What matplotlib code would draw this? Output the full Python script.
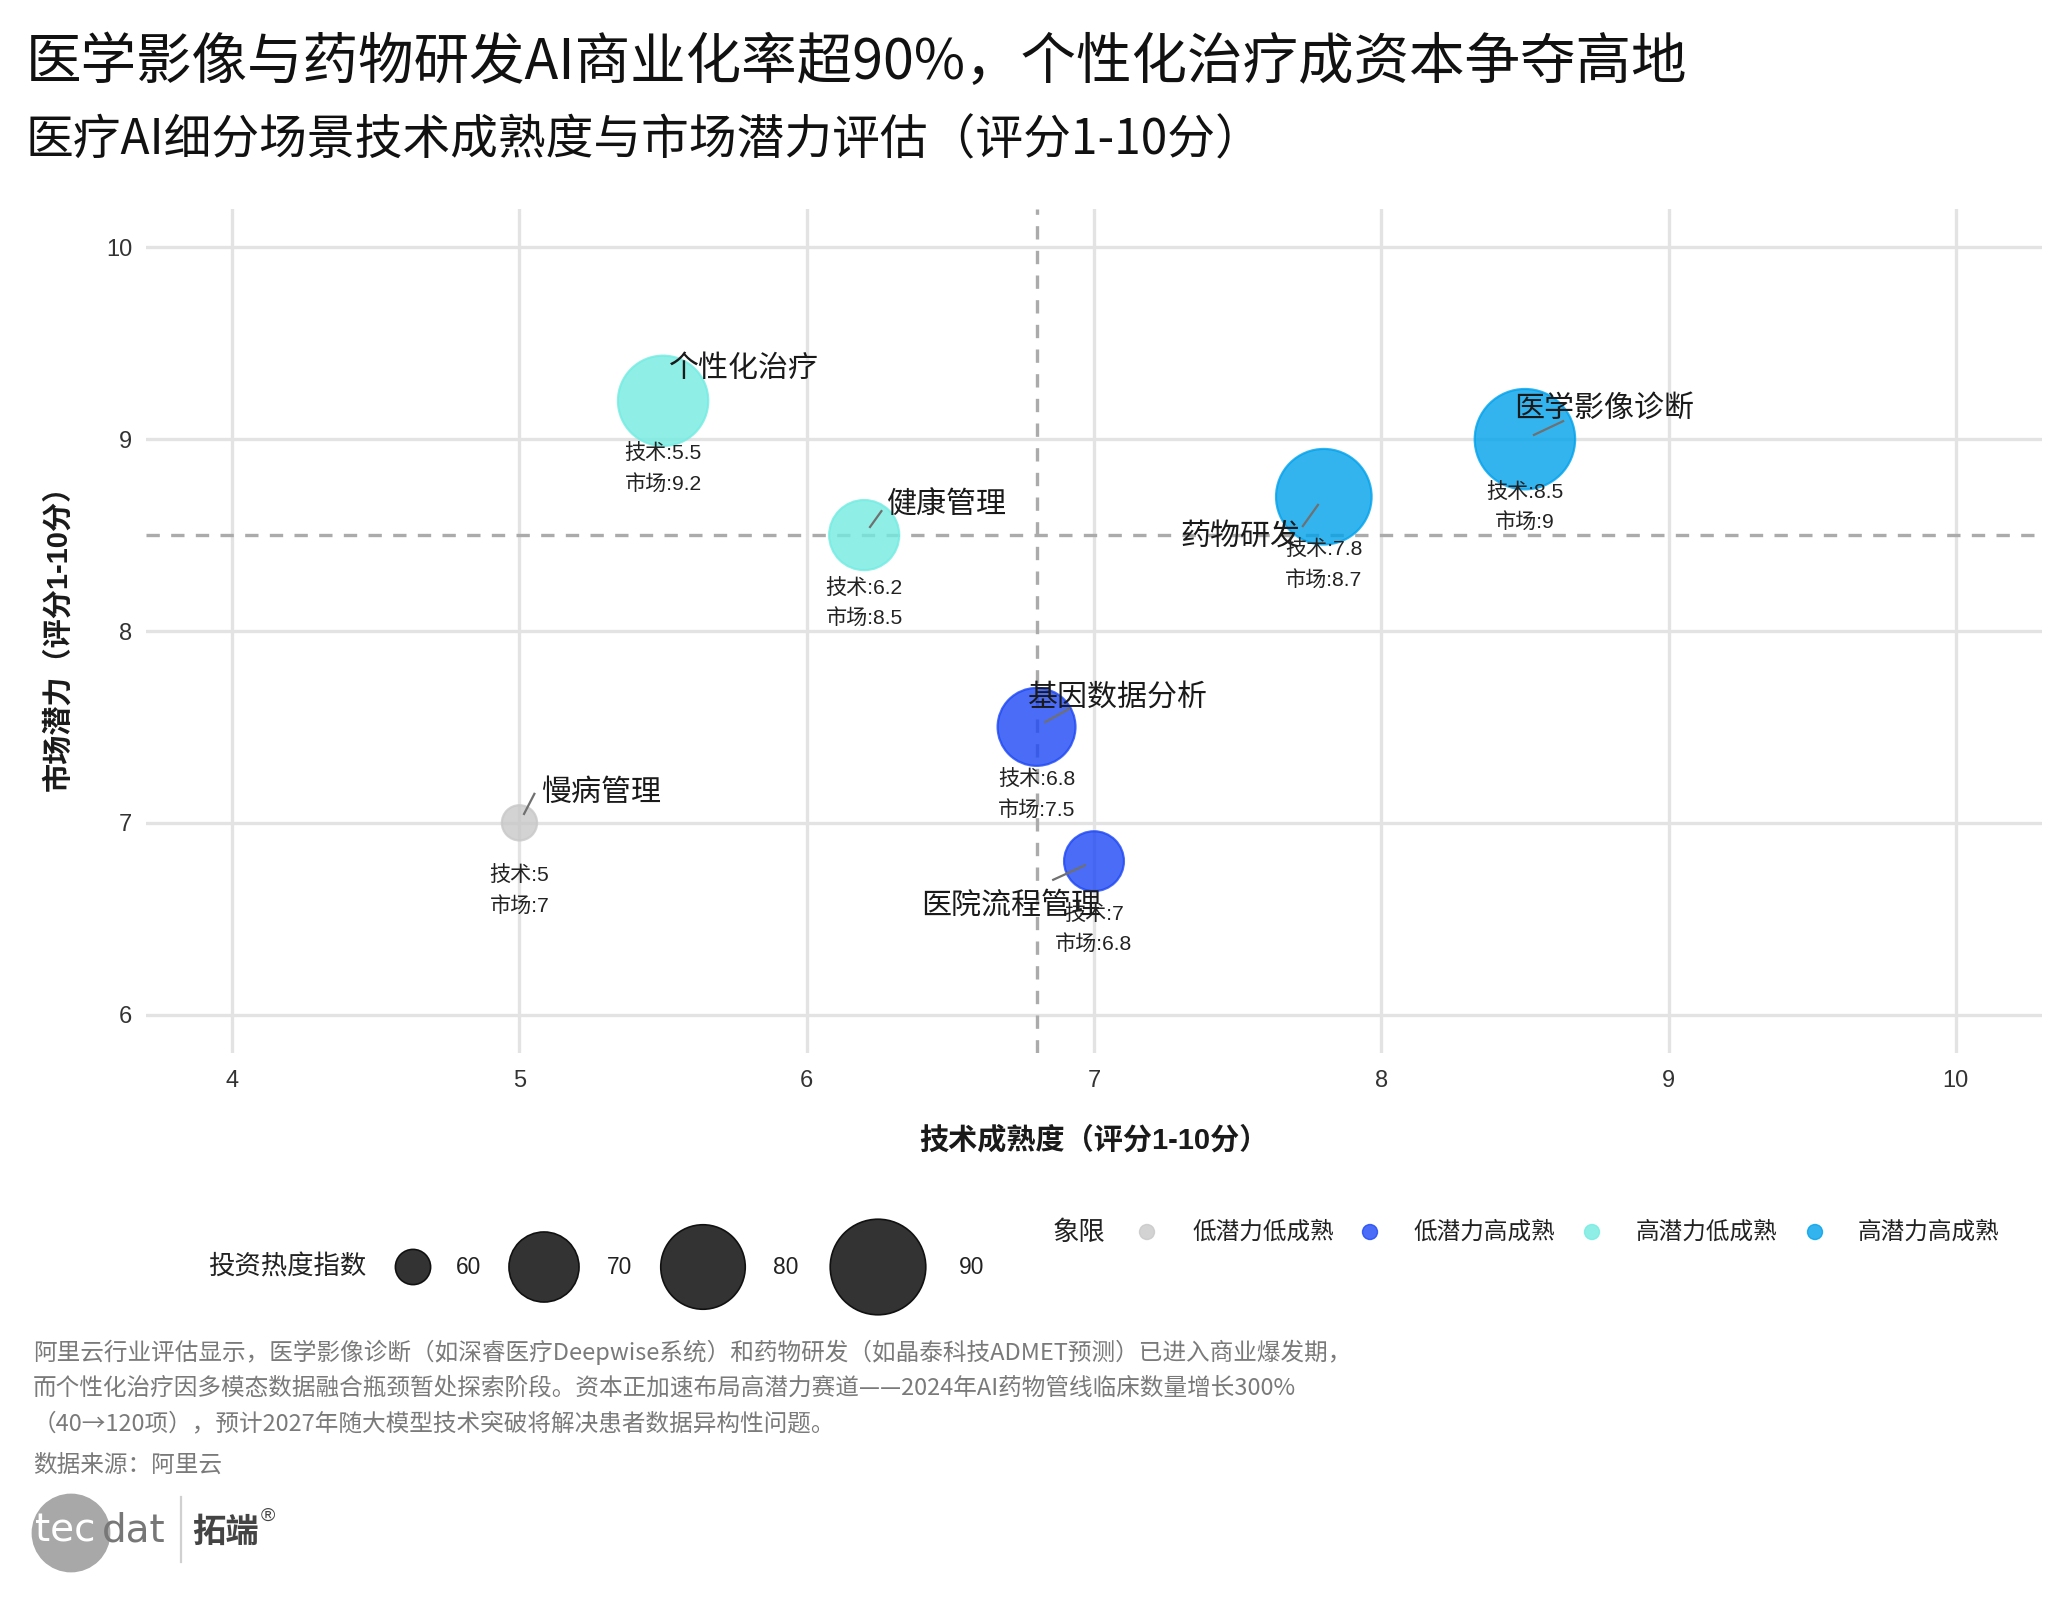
import numpy as np
import matplotlib
matplotlib.use("Agg")
import matplotlib.pyplot as plt
from matplotlib.patches import Circle

plt.rcParams["font.family"] = ["Liberation Sans", "Noto Sans CJK SC", "DejaVu Sans"]
CJK = ["Noto Sans CJK SC", "DejaVu Sans"]

# ---- 数据 ----
scenes = ["医学影像诊断", "药物研发", "个性化治疗", "基因数据分析", "健康管理", "医院流程管理", "慢病管理"]
tech = [8.5, 7.8, 5.5, 6.8, 6.2, 7.0, 5.0]
market = [9.0, 8.7, 9.2, 7.5, 8.5, 6.8, 7.0]
invest = [95, 90, 85, 75, 70, 65, 60]
size_breaks = [60, 70, 80, 90]
quad_names = ["低潜力低成熟", "低潜力高成熟", "高潜力低成熟", "高潜力高成熟"]
quad_colors = ["#C8C8C8", "#1D47F5", "#73ECE2", "#00A2EC"]

title = "医学影像与药物研发AI商业化率超90%，个性化治疗成资本争夺高地"
subtitle = "医疗AI细分场景技术成熟度与市场潜力评估（评分1-10分）"
caption = ["阿里云行业评估显示，医学影像诊断（如深睿医疗Deepwise系统）和药物研发（如晶泰科技ADMET预测）已进入商业爆发期，",
           "而个性化治疗因多模态数据融合瓶颈暂处探索阶段。资本正加速布局高潜力赛道——2024年AI药物管线临床数量增长300%",
           "（40→120项），预计2027年随大模型技术突破将解决患者数据异构性问题。"]
source = "数据来源：阿里云"

# 标签位置 (相对气泡中心的偏移: 文本中心 dx, dy, 引线端点 ax, ay)
label_layout = {
    "医学影像诊断": (0.275, 0.16, 0.133, 0.094),
    "药物研发": (-0.29, -0.21, -0.073, -0.153),
    "个性化治疗": (0.28, 0.17, None, None),
    "基因数据分析": (0.283, 0.156, 0.113, 0.094),
    "健康管理": (0.288, 0.161, 0.06, 0.125),
    "医院流程管理": (-0.29, -0.227, -0.142, -0.097),
    "慢病管理": (0.284, 0.156, 0.052, 0.151),
}

W, H, DPI = 2054, 1605, 200
ALPHA = 0.8
R_MIN, R_MAX = 17.6, 50.2  # 气泡半径范围 (像素)
PX_X, PX_Y = 287.3, 192.0  # 每单位像素 (用于引线留白)


def radius_px(v):
    lo, hi = min(invest), max(invest)
    return R_MIN + (R_MAX - R_MIN) * np.sqrt((np.asarray(v, float) - lo) / (hi - lo))


def s_of(v):
    return (2 * radius_px(v) * 72.0 / DPI) ** 2


x_mid = float(np.median(tech))
y_mid = float(np.median(market))
quads = [("高潜力" if m >= y_mid else "低潜力") + ("高成熟" if t >= x_mid else "低成熟")
         for t, m in zip(tech, market)]
colors = [quad_colors[quad_names.index(q)] for q in quads]

fig = plt.figure(figsize=(W / DPI, H / DPI), dpi=DPI)
fig.patch.set_facecolor("white")

ax = fig.add_axes([146 / W, 1 - 1053 / H, (2042 - 146) / W, (1053 - 209) / H])
ax.set_xlim(3.7, 10.3)
ax.set_ylim(5.8, 10.2)
ax.set_xticks(range(4, 11))
ax.set_yticks(range(6, 11))
for sp in ax.spines.values():
    sp.set_visible(False)
ax.tick_params(length=0, labelsize=8.5, labelcolor="#333333")
ax.tick_params(axis="x", pad=6)
ax.tick_params(axis="y", pad=5)
ax.grid(True, color="#e3e3e3", linewidth=1.2)
ax.set_axisbelow(True)

ax.axvline(x_mid, color="#ababab", linewidth=1.2, dashes=(4, 3.4), zorder=1.5)
ax.axhline(y_mid, color="#ababab", linewidth=1.2, dashes=(4, 3.4), zorder=1.5)

ax.scatter(tech, market, s=s_of(invest), c=colors, alpha=ALPHA, edgecolors=colors,
           linewidths=0.8, zorder=2)

for name, t, m in zip(scenes, tech, market):
    dx, dy, axo, ayo = label_layout[name]
    if axo is not None:
        # 引线: 从气泡中心外移少许指向标签
        ex, ey = t + axo, m + ayo
        vec = np.array([axo * PX_X, ayo * PX_Y])
        u = vec / np.linalg.norm(vec)
        sx, sy = t + u[0] * 10 / PX_X, m + u[1] * 10 / PX_Y
        ax.plot([sx, ex], [sy, ey], color="#707070", linewidth=0.8, zorder=3)
    ax.text(t + dx, m + dy, name, ha="center", va="center", fontsize=10.8,
            color="#1a1a1a", family=CJK, zorder=4)
    ax.text(t, m - 0.355, f"技术:{t:g}\n市场:{m:g}", ha="center", va="center",
            fontsize=7.6, color="#222222", linespacing=1.6, zorder=4)

ax.set_xlabel("技术成熟度（评分1-10分）", fontsize=10.5, fontweight="bold", color="#1a1a1a")
ax.set_ylabel("市场潜力（评分1-10分）", fontsize=10.5, fontweight="bold", color="#1a1a1a")
ax.xaxis.set_label_coords(0.5, (1053 - 1140) / 844.0)
ax.xaxis.label.set_va("center")
ax.yaxis.set_label_coords((58 - 146) / 1896.0, 0.5)
ax.yaxis.label.set_va("center")

# ---- 叠加层: 标题、图例、说明、logo (像素坐标) ----
lax = fig.add_axes([0, 0, 1, 1])
lax.set_xlim(0, W)
lax.set_ylim(H, 0)
lax.set_axis_off()

lax.text(26, 63, title, fontsize=20, va="center", ha="left", color="#111111", family=CJK)
lax.text(26, 141, subtitle, fontsize=17.2, va="center", ha="left", color="#111111", family=CJK)

# 尺寸图例
LEG_Y = 1267
lax.text(208, LEG_Y, "投资热度指数", fontsize=9.5, va="center", ha="left", color="#222222", family=CJK)
key_x = [413, 544, 703, 878]
lbl_x = [456, 607, 773, 959]
lax.scatter(key_x, [LEG_Y] * len(size_breaks), s=s_of(size_breaks), c="#333333",
            edgecolors="#111111", linewidths=0.6)
for kx, v in zip(lbl_x, size_breaks):
    lax.text(kx, LEG_Y, str(v), fontsize=8.2, va="center", ha="left", color="#222222")

# 象限图例
Q_Y = 1232
lax.text(1053, Q_Y, "象限", fontsize=9.5, va="center", ha="left", color="#222222", family=CJK)
dot_x = [1147, 1370, 1592, 1815]
qlbl_x = [1192, 1413, 1636, 1858]
lax.scatter(dot_x, [Q_Y] * 4, s=(2 * 7.5 * 72 / DPI) ** 2, c=quad_colors, alpha=ALPHA,
            edgecolors=quad_colors, linewidths=0.5)
for qx, q in zip(qlbl_x, quad_names):
    lax.text(qx, Q_Y, q, fontsize=8.5, va="center", ha="left", color="#222222", family=CJK)

# 说明文字
for i, line in enumerate(caption):
    lax.text(33, 1352 + i * 36, line, fontsize=8.5, va="center", ha="left",
             color="#7a7a7a", family=CJK)
lax.text(33, 1465, source, fontsize=8.5, va="center", ha="left", color="#7a7a7a", family=CJK)

# logo
lax.add_patch(Circle((71, 1533), 38, color="#a8a8a8", zorder=1))
lax.text(35, 1530, "tec", fontsize=14, va="center", ha="left", color="white",
         family=["DejaVu Sans"], zorder=2)
lax.text(102, 1530, "dat", fontsize=14, va="center", ha="left", color="#777777",
         family=["DejaVu Sans"], zorder=2)
lax.plot([181, 181], [1497, 1562], color="#d0d0d0", linewidth=0.8)
lax.text(192, 1532, "拓端", fontsize=12, fontweight="bold", va="center", ha="left",
         color="#444444", family=CJK)
lax.text(261, 1516, "®", fontsize=7, va="center", ha="left", color="#444444")

fig.savefig("out.png", dpi=DPI, facecolor="white")
